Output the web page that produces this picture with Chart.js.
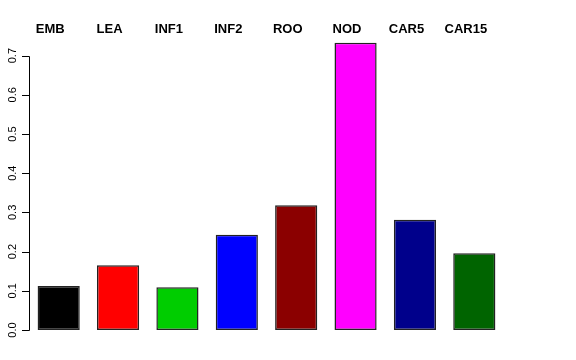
<!DOCTYPE html>
<html>
<head>
<meta charset="utf-8">
<script src="https://cdn.jsdelivr.net/npm/chart.js@4"></script>
<style>
  html, body { margin: 0; padding: 0; background: #fff; }
  #wrap { width: 576px; height: 360px; }
</style>
</head>
<body>
<div id="wrap"><canvas id="chart" width="576" height="360"></canvas></div>
<script>
const categories = ['EMB', 'LEA', 'INF1', 'INF2', 'ROO', 'NOD', 'CAR5', 'CAR15'];
const values = [0.112, 0.165, 0.109, 0.243, 0.318, 0.733, 0.281, 0.196];
const barColors = ['#000000', '#FF0000', '#00CD00', '#0000FF', '#8B0000', '#FF00FF', '#00008B', '#006400'];
const yTicks = [0, 0.1, 0.2, 0.3, 0.4, 0.5, 0.6, 0.7];
const yTickLabels = ['0.0', '0.1', '0.2', '0.3', '0.4', '0.5', '0.6', '0.7'];

// R style axis on the left + bold labels above the bars
const rAxes = {
  id: 'rAxes',
  afterDraw(c) {
    const ctx = c.ctx;
    const y = c.scales.y;
    const x = c.scales.x;
    const ax = c.chartArea.left;
    ctx.save();
    ctx.strokeStyle = '#000';
    ctx.lineWidth = 1;
    ctx.beginPath();
    ctx.moveTo(ax + 0.5, Math.round(y.getPixelForValue(yTicks[0])) + 0.5);
    ctx.lineTo(ax + 0.5, Math.round(y.getPixelForValue(yTicks[yTicks.length - 1])) + 0.5);
    yTicks.forEach(v => {
      const py = Math.round(y.getPixelForValue(v)) + 0.5;
      ctx.moveTo(ax + 0.5, py);
      ctx.lineTo(ax - 7, py);
    });
    ctx.stroke();

    ctx.fillStyle = '#000';
    ctx.font = '11px "Liberation Sans", Arial, sans-serif';
    ctx.textAlign = 'center';
    ctx.textBaseline = 'alphabetic';
    yTicks.forEach((v, i) => {
      const py = y.getPixelForValue(v);
      ctx.save();
      ctx.translate(ax - 13.5, py);
      ctx.rotate(-Math.PI / 2);
      ctx.fillText(yTickLabels[i], 0, 0);
      ctx.restore();
    });

    ctx.font = 'bold 13px "Liberation Sans", Arial, sans-serif';
    ctx.textBaseline = 'middle';
    categories.forEach((cat, i) => {
      ctx.fillText(cat, x.getPixelForValue(i) - 8.5, 29.5);
    });
    ctx.restore();
  }
};

new Chart(document.getElementById('chart'), {
  type: 'bar',
  data: {
    labels: categories,
    datasets: [{
      data: values,
      backgroundColor: barColors,
      borderColor: '#222',
      borderWidth: 1.5,
      borderSkipped: false,
      categoryPercentage: 1,
      barPercentage: 0.71
    }]
  },
  options: {
    responsive: false,
    animation: false,
    layout: { padding: { left: 29, right: 72, top: 36, bottom: 30 } },
    plugins: { legend: { display: false }, tooltip: { enabled: false } },
    scales: {
      x: { display: false, offset: true },
      y: { display: false, min: 0, max: 0.75 }
    }
  },
  plugins: [rAxes]
});
</script>
</body>
</html>
